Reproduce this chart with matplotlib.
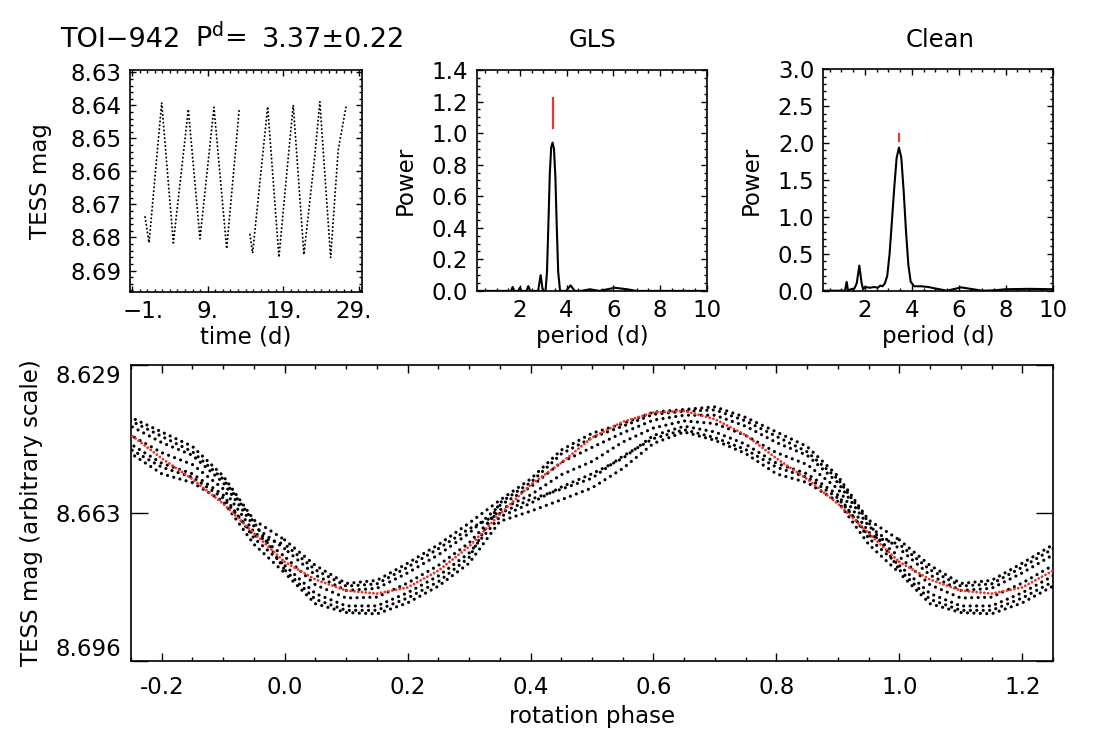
import matplotlib
matplotlib.use("Agg")
import matplotlib.pyplot as plt
import matplotlib.transforms as mtransforms
from matplotlib.ticker import MultipleLocator, FixedLocator, FormatStrFormatter

plt.rcParams['font.family'] = ['DejaVu Sans']
plt.rcParams['mathtext.default'] = 'regular'

# ---- data ----
# light curve (TESS), two halves of the sector
seg1_time = [0.72, 1.25, 2.92, 4.46, 6.44, 7.98, 9.83, 11.51, 13.17]
seg1_mag = [8.6738, 8.6816, 8.6392, 8.6816, 8.6412, 8.6804, 8.6406, 8.6834, 8.6412]
seg2_time = [14.59, 14.94, 16.93, 18.42, 19.44, 20.31, 21.72, 23.17, 23.83, 25.25, 26.25, 27.27]
seg2_mag = [8.6791, 8.6847, 8.6404, 8.6860, 8.6608, 8.6399, 8.6852, 8.6551, 8.6389, 8.6861, 8.6536, 8.6406]

# GLS periodogram
gls_period = [0.15, 1.55, 1.62, 1.69, 1.76, 1.93, 2.0, 2.07, 2.28, 2.36, 2.44, 2.78, 2.89, 2.98,
              3.10, 3.16, 3.22, 3.28, 3.34, 3.40, 3.46, 3.52, 3.58, 3.64, 3.72, 3.98, 4.17, 4.35,
              4.6, 5.0, 5.4, 6.07, 6.6, 7.0, 10.0]
gls_power = [0.0, 0.0, 0.0, 0.025, 0.0, 0.0, 0.02, 0.0, 0.0, 0.03, 0.0, 0.0, 0.1, 0.0,
             0.0, 0.12, 0.42, 0.74, 0.91, 0.94, 0.90, 0.72, 0.40, 0.12, 0.0, 0.0, 0.035, 0.0,
             0.0, 0.01, 0.0, 0.02, 0.01, 0.0, 0.0]
gls_best = 3.40
gls_mark = [1.03, 1.22]

# CLEAN periodogram
clean_period = [0.2, 1.15, 1.22, 1.28, 1.4, 1.55, 1.65, 1.76, 1.86, 1.92, 2.0, 2.2, 2.4, 2.55,
                2.65, 2.75, 2.85, 2.95, 3.05, 3.15, 3.25, 3.35, 3.45, 3.55, 3.65, 3.75, 3.85,
                3.95, 4.1, 4.4, 4.7, 5.0, 5.5, 6.1, 6.6, 7.0, 7.5, 8.0, 9.0, 10.0]
clean_power = [0.0, 0.0, 0.12, 0.0, 0.02, 0.03, 0.1, 0.34, 0.1, 0.02, 0.05, 0.04, 0.05, 0.04,
               0.07, 0.06, 0.1, 0.2, 0.5, 0.95, 1.4, 1.8, 1.94, 1.8, 1.35, 0.8, 0.35,
               0.12, 0.06, 0.06, 0.05, 0.03, 0.0, 0.045, 0.02, 0.0, 0.005, 0.02, 0.025, 0.02]
clean_best = 3.45
clean_mark = [2.03, 2.12]

# phase-folded light curve: dot rows (single cycles) and the sinusoidal fit
phase = [0.00, 0.05, 0.10, 0.15, 0.20, 0.25, 0.30, 0.35, 0.40, 0.45, 0.50,
         0.55, 0.60, 0.65, 0.70, 0.75, 0.80, 0.85, 0.90, 0.95, 1.00]
row_1 = [8.6690, 8.6748, 8.6789, 8.6782, 8.6743, 8.6701, 8.6652, 8.6600, 8.6552, 8.6486, 8.6448,
         8.6426, 8.6400, 8.6394, 8.6388, 8.6412, 8.6445, 8.6478, 8.6545, 8.6645, 8.6690]
row_2 = [8.6710, 8.6770, 8.6805, 8.6800, 8.6765, 8.6724, 8.6675, 8.6612, 8.6570, 8.6514, 8.6480,
         8.6447, 8.6418, 8.6407, 8.6407, 8.6432, 8.6469, 8.6498, 8.6560, 8.6659, 8.6710]
row_3 = [8.6728, 8.6792, 8.6822, 8.6820, 8.6788, 8.6748, 8.6697, 8.6622, 8.6588, 8.6542, 8.6512,
         8.6468, 8.6436, 8.6420, 8.6426, 8.6453, 8.6492, 8.6519, 8.6574, 8.6672, 8.6728]
row_4 = [8.6748, 8.6812, 8.6840, 8.6840, 8.6810, 8.6772, 8.6720, 8.6638, 8.6607, 8.6570, 8.6540,
         8.6505, 8.6453, 8.6432, 8.6445, 8.6473, 8.6516, 8.6540, 8.6588, 8.6686, 8.6748]
row_5 = [8.6765, 8.6835, 8.6855, 8.6858, 8.6833, 8.6795, 8.6743, 8.6648, 8.6625, 8.6599, 8.6572,
         8.6528, 8.6471, 8.6445, 8.6464, 8.6494, 8.6540, 8.6560, 8.6603, 8.6700, 8.6765]
row_6 = [8.6700, 8.6758, 8.6795, 8.6790, 8.6752, 8.6710, 8.6665, 8.6630, 8.6598, 8.6575, 8.6550,
         8.6500, 8.6460, 8.6440, 8.6458, 8.6485, 8.6525, 8.6548, 8.6595, 8.6680, 8.6700]
row_7 = [8.6758, 8.6825, 8.6850, 8.6850, 8.6822, 8.6785, 8.6730, 8.6606, 8.6560, 8.6495, 8.6458,
         8.6432, 8.6405, 8.6398, 8.6395, 8.6420, 8.6455, 8.6490, 8.6552, 8.6650, 8.6758]
fit_mag = [8.6740, 8.6780, 8.6805, 8.6812, 8.6798, 8.6760, 8.6705, 8.6632, 8.6565, 8.6515, 8.6458,
           8.6422, 8.6401, 8.6397, 8.6416, 8.6452, 8.6505, 8.6552, 8.6608, 8.6675, 8.6740]
cycle_shift = [-1, 0, 1]

mag_range = (8.6965, 8.6293)

# ---- figure ----
W, H = 1096, 744
fig = plt.figure(figsize=(W / 100, H / 100), dpi=100)


def box(l, t, r, b):
    return [l / W, 1 - b / H, (r - l) / W, (b - t) / H]


def ftext(x, y, s, **kw):
    fig.text(x / W, 1 - y / H, s, **kw)


def nudge(label, dx_px, dy_px=0):
    off = mtransforms.ScaledTranslation(dx_px / 100, dy_px / 100, fig.dpi_scale_trans)
    label.set_transform(label.get_transform() + off)


FS = 16.5
RED = '#e8382d'

# light curve
ax1 = fig.add_axes(box(130, 70, 362, 292))
for t, m in [(seg1_time, seg1_mag), (seg2_time, seg2_mag)]:
    ax1.plot(t, m, color='k', lw=1.4, ls=(0, (0.1, 1.9)), dash_capstyle='round')
ax1.set_xlim(-1.27, 29.4)
ax1.set_ylim(*mag_range)
ax1.xaxis.set_major_locator(FixedLocator([-1, 9, 19, 29]))
ax1.set_xticklabels(['\u22121.', '9.', '19.', '29.'])
ax1.xaxis.set_minor_locator(MultipleLocator(1))
ax1.yaxis.set_major_locator(FixedLocator([8.63, 8.64, 8.65, 8.66, 8.67, 8.68, 8.69]))
ax1.set_yticklabels(['8.63', '8.64', '8.65', '8.66', '8.67', '8.68', '8.69'])
ax1.yaxis.set_minor_locator(MultipleLocator(0.002))

# GLS
ax2 = fig.add_axes(box(476.7, 70, 706.7, 290.9))
ax2.plot(gls_period, gls_power, color='k', lw=1.5)
ax2.plot([gls_best, gls_best], gls_mark, color=RED, lw=1.6)
ax2.set_xlim(0.15, 10)
ax2.set_ylim(0, 1.4)
ax2.xaxis.set_major_locator(FixedLocator([2, 4, 6, 8, 10]))
ax2.xaxis.set_minor_locator(MultipleLocator(0.5))
ax2.yaxis.set_major_locator(MultipleLocator(0.2))
ax2.yaxis.set_minor_locator(MultipleLocator(0.05))
ax2.yaxis.set_major_formatter(FormatStrFormatter('%.1f'))

# CLEAN
ax3 = fig.add_axes(box(822.7, 69.3, 1052.7, 290.7))
ax3.plot(clean_period, clean_power, color='k', lw=1.5)
ax3.plot([clean_best, clean_best], clean_mark, color=RED, lw=1.6)
ax3.set_xlim(0.2, 10)
ax3.set_ylim(0, 3.0)
ax3.xaxis.set_major_locator(FixedLocator([2, 4, 6, 8, 10]))
ax3.xaxis.set_minor_locator(MultipleLocator(0.5))
ax3.yaxis.set_major_locator(MultipleLocator(0.5))
ax3.yaxis.set_minor_locator(MultipleLocator(0.1))
ax3.yaxis.set_major_formatter(FormatStrFormatter('%.1f'))

for ax in (ax1, ax2, ax3):
    ax.tick_params(which='both', direction='in', top=True, right=True,
                   labelsize=FS, width=1.0, pad=6)
    ax.tick_params(which='major', length=4.5)
    ax.tick_params(which='minor', length=2.2)
    for s in ax.spines.values():
        s.set_linewidth(1.2)

xl = ax1.get_xticklabels()
nudge(xl[0], 11)
nudge(xl[-1], -5)

# phase-folded
ax4 = fig.add_axes(box(131, 365, 1053, 661))
rows = [row_1, row_2, row_3, row_4, row_5, row_6, row_7]
for i, row in enumerate(rows):
    for k in cycle_shift:
        ax4.plot([p + k for p in phase], row, color='k', lw=2.3,
                 ls=(0.6 * i, (0.01, 2.0)), dash_capstyle='round')
for k in cycle_shift:
    ax4.plot([p + k for p in phase], fit_mag, color=RED, lw=2.1,
             ls=(0, (0.01, 1.3)), dash_capstyle='round', zorder=5)
ax4.set_xlim(-0.25, 1.25)
ax4.set_ylim(*mag_range)
ax4.xaxis.set_major_locator(MultipleLocator(0.2))
ax4.xaxis.set_major_formatter(FormatStrFormatter('%.1f'))
ax4.xaxis.set_minor_locator(MultipleLocator(0.05))
mid = (mag_range[0] + mag_range[1]) / 2
ax4.yaxis.set_major_locator(FixedLocator([mag_range[1], mid, mag_range[0]]))
ax4.set_yticklabels(['8.629', '8.663', '8.696'])
ylabs = ax4.get_yticklabels()
ylabs[0].set_va('top')
ylabs[2].set_va('bottom')
ax4.tick_params(axis='x', which='both', direction='in', top=True, labelsize=FS, width=1.0, pad=11)
ax4.tick_params(axis='x', which='major', length=6)
ax4.tick_params(axis='x', which='minor', length=3)
ax4.tick_params(axis='y', which='major', direction='in', right=True, length=12.5,
                width=1.0, labelsize=FS, pad=7)
for s in ax4.spines.values():
    s.set_linewidth(1.2)

# labels and titles
ftext(60, 47, 'TOI\u2212942', fontsize=19.5, ha='left', va='baseline')
ftext(195, 47, 'P$^{d}$=', fontsize=19.5, ha='left', va='baseline')
ftext(262, 47, '3.37\u00b10.22', fontsize=19.5, ha='left', va='baseline')
ftext(592, 47, 'GLS', fontsize=17.5, ha='center', va='baseline')
ftext(940, 47, 'Clean', fontsize=17.5, ha='center', va='baseline')

ftext(40, 181, 'TESS mag', fontsize=FS, rotation=90, ha='center', va='center')
ftext(405, 180, 'Power', fontsize=FS, rotation=90, ha='center', va='center')
ftext(751, 180, 'Power', fontsize=FS, rotation=90, ha='center', va='center')
ftext(246, 337, 'time (d)', fontsize=FS, ha='center', va='center')
ftext(592, 337, 'period (d)', fontsize=FS, ha='center', va='center')
ftext(938, 337, 'period (d)', fontsize=FS, ha='center', va='center')
ftext(32, 513, 'TESS mag (arbitrary scale)', fontsize=FS, rotation=90, ha='center', va='center')
ftext(592, 716, 'rotation phase', fontsize=FS, ha='center', va='center')

fig.savefig('out.png', dpi=100)
